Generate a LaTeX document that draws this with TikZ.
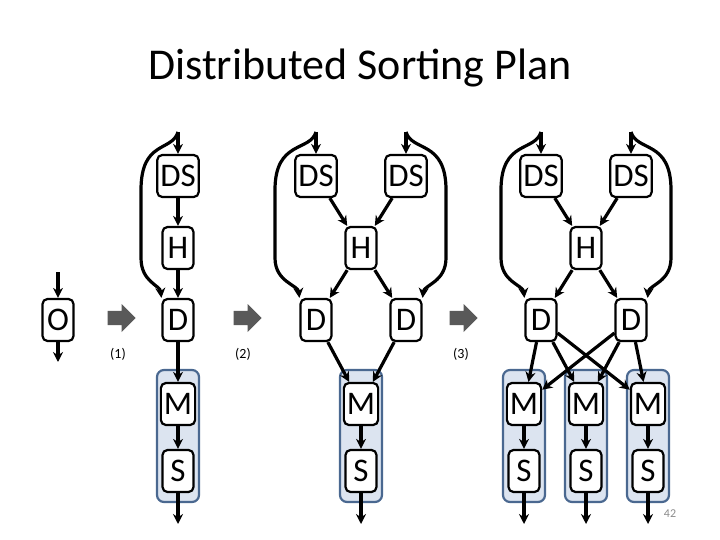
\documentclass[tikz,border=0pt]{standalone}
\usepackage{fontspec}
\setmainfont{Carlito}
\usetikzlibrary{arrows.meta,shapes.arrows}
\definecolor{gfill}{HTML}{DCE4F0}
\definecolor{gline}{HTML}{4A6890}
\begin{document}
\begin{tikzpicture}[x=1pt,y=-1pt,
 box/.style={draw,line width=2.2pt,rounded corners=5pt,minimum width=31pt,minimum height=42pt,inner xsep=3pt,inner ysep=0pt,font=\fontsize{33}{33}\selectfont,fill=white},
 ar/.style={line width=3.2pt,-{Stealth[length=10pt,width=10pt]}},
 grp/.style={draw=gline,line width=2.2pt,rounded corners=7pt,fill=gfill},
 big/.style={single arrow,fill=black!65,minimum height=28pt,minimum width=28pt,single arrow head extend=3pt,single arrow head indent=0pt,inner sep=3pt},
 lab/.style={font=\fontsize{14}{14}\selectfont}]
\useasboundingbox (0,0) rectangle (720,540);
\node[font=\fontsize{44}{44}\selectfont] (title) at (360,68) {Distributed Sorting Plan};
% groups
\draw[grp] (157,370) rectangle (199,502);
\draw[grp] (340,370) rectangle (382,502);
\draw[grp] (503,370) rectangle (545,502);
\draw[grp] (565,370) rectangle (607,502);
\draw[grp] (627,370) rectangle (669,502);
% O
\node[box] (O) at (58,320) {O};
\coordinate (oi) at (58,272); \coordinate (oo) at (58,362);
\draw[ar] (oi) -- (O); \draw[ar] (O) -- (oo);
% big arrows
\node[big] (b1) at (118,318) {}; \node[big] (b2) at (244,318) {}; \node[big] (b3) at (460,318) {};
\node[lab] (l1) at (118,354) {(1)}; \node[lab] (l2) at (243,354) {(2)}; \node[lab] (l3) at (461,354) {(3)};
% plan 1
\node[box] (ds1) at (178,176) {DS};
\node[box] (h1) at (178,248) {H};
\node[box] (d1) at (178,320) {D};
\node[box] (m1) at (178,404) {M};
\node[box] (s1) at (178,471) {S};
\coordinate (t1) at (178,132); \coordinate (e1) at (178,524);
\draw[ar] (t1) -- (ds1); \draw[ar] (ds1) -- (h1); \draw[ar] (h1) -- (d1);
\draw[ar] (d1) -- (m1); \draw[ar] (m1) -- (s1); \draw[ar] (s1) -- (e1);
\draw[ar] (t1) .. controls (172,152) and (141,140) .. (141,190) -- (141,258) .. controls (141,282) and (160,285) .. (d1.north west);
% plan 2
\node[box] (ds2a) at (316,176) {DS}; \node[box] (ds2b) at (406,176) {DS};
\node[box] (h2) at (361,248) {H};
\node[box] (d2a) at (316,320) {D}; \node[box] (d2b) at (406,320) {D};
\node[box] (m2) at (361,404) {M}; \node[box] (s2) at (361,471) {S};
\coordinate (t2a) at (316,132); \coordinate (t2b) at (406,132); \coordinate (e2) at (361,524);
\draw[ar] (t2a) -- (ds2a); \draw[ar] (t2b) -- (ds2b);
\draw[ar] (ds2a) -- (h2); \draw[ar] (ds2b) -- (h2);
\draw[ar] (h2) -- (d2a); \draw[ar] (h2) -- (d2b);
\draw[ar] (d2a) -- (m2); \draw[ar] (d2b) -- (m2);
\draw[ar] (m2) -- (s2); \draw[ar] (s2) -- (e2);
\draw[ar] (t2a) .. controls (310,152) and (275,140) .. (275,190) -- (275,258) .. controls (275,282) and (298,285) .. (d2a.north west);
\draw[ar] (t2b) .. controls (412,152) and (446,140) .. (446,190) -- (446,258) .. controls (446,282) and (424,285) .. (d2b.north east);
% plan 3
\node[box] (ds3a) at (541,176) {DS}; \node[box] (ds3b) at (631,176) {DS};
\node[box] (h3) at (586,248) {H};
\node[box] (d3a) at (541,320) {D}; \node[box] (d3b) at (631,320) {D};
\foreach \i/\x in {a/524,b/586,c/648}{
 \node[box] (m3\i) at (\x,404) {M}; \node[box] (s3\i) at (\x,471) {S};
 \coordinate (e3\i) at (\x,524);
 \draw[ar] (m3\i) -- (s3\i); \draw[ar] (s3\i) -- (e3\i);}
\foreach \i in {a,b,c}{
 \draw[ar] (d3a) -- (m3\i); \draw[ar] (d3b) -- (m3\i);}
\coordinate (t3a) at (541,132); \coordinate (t3b) at (631,132);
\draw[ar] (t3a) -- (ds3a); \draw[ar] (t3b) -- (ds3b);
\draw[ar] (ds3a) -- (h3); \draw[ar] (ds3b) -- (h3);
\draw[ar] (h3) -- (d3a); \draw[ar] (h3) -- (d3b);
\draw[ar] (t3a) .. controls (535,152) and (501,140) .. (501,190) -- (501,258) .. controls (501,282) and (523,285) .. (d3a.north west);
\draw[ar] (t3b) .. controls (637,152) and (671,140) .. (671,190) -- (671,258) .. controls (671,282) and (649,285) .. (d3b.north east);
\node[font=\fontsize{12}{12}\selectfont,text=black!45] (pg) at (670,514) {42};
\end{tikzpicture}
\end{document}
